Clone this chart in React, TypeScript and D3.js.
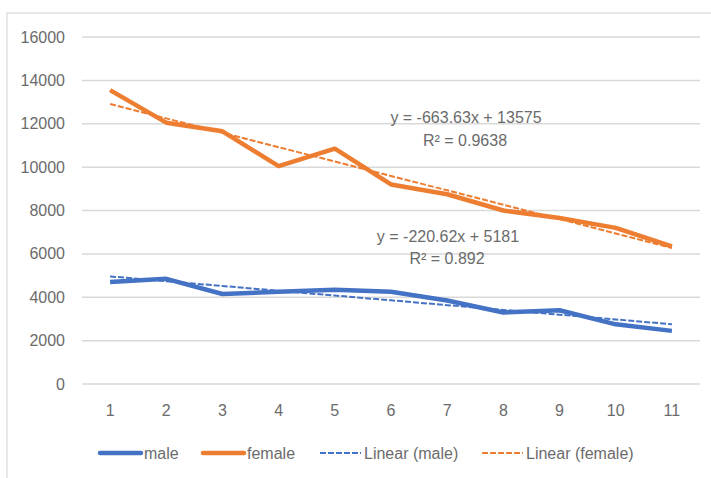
import React from "react";
import * as d3 from "d3";

const categories = ["1", "2", "3", "4", "5", "6", "7", "8", "9", "10", "11"];
const maleValues = [4700, 4850, 4150, 4250, 4350, 4250, 3850, 3300, 3400, 2750, 2450];
const femaleValues = [13550, 12050, 11650, 10050, 10850, 9200, 8750, 8000, 7650, 7200, 6350];
const yTicks = [0, 2000, 4000, 6000, 8000, 10000, 12000, 14000, 16000];
const maleTrend = { slope: -220.62, intercept: 5181 };
const femaleTrend = { slope: -663.63, intercept: 13575 };
const maleEq = ["y = -220.62x + 5181", "R² = 0.892"];
const femaleEq = ["y = -663.63x + 13575", "R² = 0.9638"];
const legendItems = [
  { label: "male", color: "#4472C4", dashed: false },
  { label: "female", color: "#ED7D31", dashed: false },
  { label: "Linear (male)", color: "#4472C4", dashed: true },
  { label: "Linear (female)", color: "#ED7D31", dashed: true },
];

const W = 711;
const H = 478;
const BLUE = "#4472C4";
const ORANGE = "#ED7D31";
const TEXT = "#6b6b6b";
const FONT = "'Liberation Sans', Arial, sans-serif";

export default function App() {
  const x = d3.scaleBand<string>().domain(categories).range([82, 700]);
  const y = d3.scaleLinear().domain([0, 16000]).range([384, 37]);
  const cx = (c: string) => (x(c) as number) + x.bandwidth() / 2;

  const line = d3
    .line<number>()
    .x((_, i) => cx(categories[i]))
    .y((v) => y(v));

  const trend = (t: { slope: number; intercept: number }) =>
    categories.map((_, i) => t.slope * (i + 1) + t.intercept);

  const legendX = [100, 203, 320, 482];

  return (
    <svg
      width={W}
      height={H}
      style={{ position: "absolute", left: 0, top: 0, background: "#fff" }}
      fontFamily={FONT}
    >
      <rect x={0} y={0} width={W} height={H} fill="#fff" />
      <rect x={7} y={13} width={W + 20} height={H + 20} fill="none" stroke="#d9d9d9" strokeWidth={1.2} />
      {yTicks.map((t) => (
        <g key={t}>
          <line x1={82} x2={700} y1={y(t)} y2={y(t)} stroke="#d9d9d9" strokeWidth={1.5} />
          <text x={65} y={y(t)} dy="0.35em" textAnchor="end" fontSize={16} fill={TEXT}>
            {t}
          </text>
        </g>
      ))}
      {categories.map((c) => (
        <text key={c} x={cx(c)} y={410} dy="0.35em" textAnchor="middle" fontSize={16} fill={TEXT}>
          {c}
        </text>
      ))}
      <path d={line(maleValues) || ""} fill="none" stroke={BLUE} strokeWidth={4.5} strokeLinejoin="round" />
      <path d={line(femaleValues) || ""} fill="none" stroke={ORANGE} strokeWidth={4.5} strokeLinejoin="round" />
      <path d={line(trend(maleTrend)) || ""} fill="none" stroke={BLUE} strokeWidth={2} strokeDasharray="6,2" />
      <path d={line(trend(femaleTrend)) || ""} fill="none" stroke={ORANGE} strokeWidth={2} strokeDasharray="6,2" />

      <text x={466} y={117} dy="0.35em" textAnchor="middle" fontSize={16} fill={TEXT}>
        {femaleEq[0]}
      </text>
      <text x={465} y={140} dy="0.35em" textAnchor="middle" fontSize={16} fill={TEXT}>
        {femaleEq[1]}
      </text>
      <text x={448} y={236} dy="0.35em" textAnchor="middle" fontSize={16} fill={TEXT}>
        {maleEq[0]}
      </text>
      <text x={447} y={258} dy="0.35em" textAnchor="middle" fontSize={16} fill={TEXT}>
        {maleEq[1]}
      </text>

      {legendItems.map((it, i) => (
        <g key={it.label} transform={`translate(${legendX[i]},453)`}>
          <line
            x1={0}
            x2={41}
            y1={0}
            y2={0}
            stroke={it.color}
            strokeWidth={it.dashed ? 2 : 4.5}
            strokeDasharray={it.dashed ? "6,2" : undefined}
            strokeLinecap={it.dashed ? "butt" : "round"}
          />
          <text x={44} y={0} dy="0.35em" fontSize={16} fill={TEXT}>
            {it.label}
          </text>
        </g>
      ))}
    </svg>
  );
}
